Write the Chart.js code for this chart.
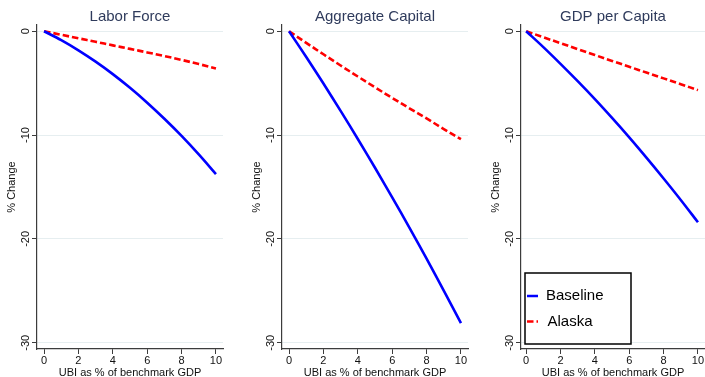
<!DOCTYPE html>
<html>
<head>
<meta charset="utf-8">
<script src="https://cdn.jsdelivr.net/npm/chart.js@4.4.1/dist/chart.umd.min.js"></script>
<style>
  html, body { margin: 0; padding: 0; background: #ffffff; overflow: hidden; }
  body { width: 705px; height: 377px; position: relative; }
  .panel { position: absolute; top: 0; height: 377px; }
</style>
</head>
<body>
<div class="panel" id="p1"><canvas id="c1"></canvas></div>
<div class="panel" id="p2"><canvas id="c2"></canvas></div>
<div class="panel" id="p3"><canvas id="c3"></canvas></div>
<script>
// UBI size (% of benchmark GDP)
const ubiShare = [0, 1, 2, 3, 4, 5, 6, 7, 8, 9, 10];

// % change relative to the no-UBI economy
const laborBaseline   = [0, -0.86, -1.84, -2.93, -4.13, -5.45, -6.88, -8.43, -10.08, -11.86, -13.75];
const laborAlaska     = [0, -0.34, -0.68, -1.02, -1.36, -1.70, -2.04, -2.39, -2.76, -3.16, -3.58];
const capitalBaseline = [0, -2.49, -5.04, -7.67, -10.38, -13.15, -16.00, -18.91, -21.90, -24.97, -28.10];
const capitalAlaska   = [0, -1.12, -2.22, -3.30, -4.36, -5.40, -6.42, -7.42, -8.40, -9.42, -10.40];
const gdpBaseline     = [0, -1.53, -3.14, -4.81, -6.54, -8.35, -10.22, -12.17, -14.18, -16.25, -18.40];
const gdpAlaska       = [0, -0.58, -1.15, -1.72, -2.29, -2.86, -3.42, -3.98, -4.54, -5.10, -5.67];

const panelTitles = ['Labor Force', 'Aggregate Capital', 'GDP per Capita'];
const seriesNames = ['Baseline', 'Alaska'];
const xTicks = [0, 2, 4, 6, 8, 10];
const yTicks = [0, -10, -20, -30];
const yAxisTitle = '% Change';
const xAxisTitle = 'UBI as % of benchmark GDP';

const FONT = '"Liberation Sans", Arial, Helvetica, sans-serif';
const BLUE = '#0000ff';
const RED = '#ff0000';
const TITLE_COLOR = '#2f3b5c';
const AXIS_COLOR = '#3c3c3c';
const GRID_COLOR = '#e6eef0';
const DASH = [6.5, 3];

function toPoints(ys) {
  return ubiShare.map((x, i) => ({ x: x, y: ys[i] }));
}

// Text around each panel: title, rotated y tick labels, axis titles
const panelText = {
  id: 'panelText',
  afterDraw(chart, args, opts) {
    const ctx = chart.ctx;
    const area = chart.chartArea;
    const ys = chart.scales.y;
    ctx.save();
    ctx.fillStyle = TITLE_COLOR;
    ctx.font = '15px ' + FONT;
    ctx.textAlign = 'center';
    ctx.textBaseline = 'alphabetic';
    ctx.fillText(opts.title, (area.left + area.right) / 2, 20.5);

    ctx.fillStyle = '#111111';
    ctx.font = '11px ' + FONT;
    ctx.textBaseline = 'middle';
    yTicks.forEach(v => {
      const py = ys.getPixelForValue(v);
      ctx.save();
      ctx.translate(area.left - 11, py);
      ctx.rotate(-Math.PI / 2);
      ctx.fillText(String(v), 0, 0);
      ctx.restore();
    });

    ctx.save();
    ctx.translate(area.left - 25, (area.top + area.bottom) / 2);
    ctx.rotate(-Math.PI / 2);
    ctx.fillText(yAxisTitle, 0, 0);
    ctx.restore();

    ctx.fillText(xAxisTitle, (area.left + area.right) / 2, 373);
    ctx.restore();
  }
};

// Boxed legend placed inside the last panel
const boxedLegend = {
  id: 'boxedLegend',
  afterDraw(chart, args, opts) {
    if (!opts.show) return;
    const ctx = chart.ctx;
    const bx = opts.x, by = opts.y, bw = opts.w, bh = opts.h;
    ctx.save();
    ctx.fillStyle = '#ffffff';
    ctx.fillRect(bx, by, bw, bh);
    ctx.strokeStyle = '#000000';
    ctx.lineWidth = 1.5;
    ctx.strokeRect(bx, by, bw, bh);
    ctx.font = '15px ' + FONT;
    ctx.textBaseline = 'middle';
    ctx.textAlign = 'left';
    chart.data.datasets.forEach((ds, i) => {
      const cy = by + 23 + i * 25.5;
      ctx.strokeStyle = ds.borderColor;
      ctx.lineWidth = 2.5;
      ctx.setLineDash(ds.borderDash || []);
      ctx.beginPath();
      ctx.moveTo(bx + 2, cy);
      ctx.lineTo(bx + 13, cy);
      ctx.stroke();
      ctx.setLineDash([]);
      ctx.fillStyle = '#000000';
      ctx.fillText(ds.label, bx + 21 + i * 1.5, cy);
    });
    ctx.restore();
  }
};

function makePanel(canvasId, boxId, left, width, title, baseline, alaska, xMin, legend) {
  const box = document.getElementById(boxId);
  box.style.left = left + 'px';
  box.style.width = width + 'px';
  const canvas = document.getElementById(canvasId);
  canvas.width = width;
  canvas.height = 377;
  canvas.style.width = width + 'px';
  canvas.style.height = '377px';
  return new Chart(canvas, {
    type: 'scatter',
    data: {
      datasets: [
        {
          label: seriesNames[0],
          data: toPoints(baseline),
          showLine: true,
          borderColor: BLUE,
          borderWidth: 2.6,
          pointRadius: 0,
          tension: 0.35,
          fill: false
        },
        {
          label: seriesNames[1],
          data: toPoints(alaska),
          showLine: true,
          borderColor: RED,
          borderWidth: 2.6,
          borderDash: DASH,
          pointRadius: 0,
          tension: 0.35,
          fill: false
        }
      ]
    },
    options: {
      responsive: false,
      animation: false,
      devicePixelRatio: 1,
      layout: { padding: { left: 0, right: 12, top: 25, bottom: 0 } },
      plugins: {
        legend: { display: false },
        tooltip: { enabled: false },
        title: { display: false },
        panelText: { title: title },
        boxedLegend: legend
      },
      scales: {
        x: {
          type: 'linear',
          min: xMin,
          max: 10.41,
          afterFit: s => { s.height = 28; },
          afterBuildTicks: s => { s.ticks = xTicks.map(v => ({ value: v })); },
          grid: { drawOnChartArea: false, drawTicks: true, tickLength: 5, tickColor: AXIS_COLOR, tickWidth: 1 },
          border: { display: true, color: AXIS_COLOR, width: 1.2 },
          ticks: { color: '#111111', font: { family: FONT, size: 11 }, padding: 0, maxRotation: 0, autoSkip: false }
        },
        y: {
          type: 'linear',
          min: -30.6,
          max: 0.6,
          afterFit: s => { s.width = 37; },
          afterBuildTicks: s => { s.ticks = yTicks.map(v => ({ value: v })); },
          grid: { color: GRID_COLOR, lineWidth: 1, drawTicks: true, tickLength: 5, tickColor: AXIS_COLOR, tickWidth: 1 },
          border: { display: true, color: AXIS_COLOR, width: 1.2 },
          ticks: { display: false }
        }
      }
    },
    plugins: [panelText, boxedLegend]
  });
}

makePanel('c1', 'p1', 0, 235, panelTitles[0], laborBaseline, laborAlaska, -0.41, { show: false });
makePanel('c2', 'p2', 245, 235, panelTitles[1], capitalBaseline, capitalAlaska, -0.41, { show: false });
makePanel('c3', 'p3', 484, 233, panelTitles[2], gdpBaseline, gdpAlaska, -0.30,
  { show: true, x: 41, y: 273, w: 106, h: 71 });
</script>
</body>
</html>
